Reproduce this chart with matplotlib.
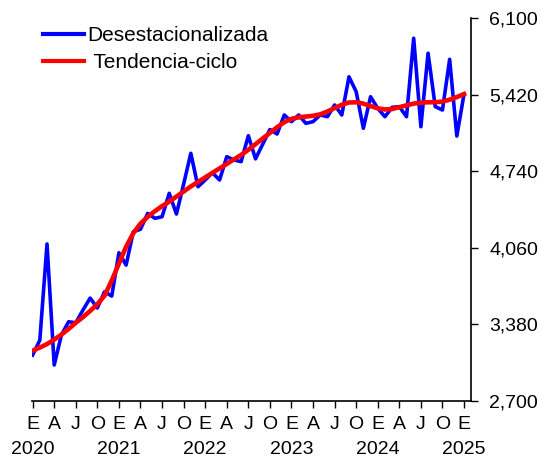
import numpy as np
import matplotlib
matplotlib.use("Agg")
import matplotlib.pyplot as plt
from matplotlib.ticker import FuncFormatter

plt.rcParams["font.family"] = ["Liberation Sans", "DejaVu Sans"]

# monthly series, Jan 2020 .. Jan 2025
desestacionalizada = [
    3108, 3241, 4094, 3020, 3286, 3404, 3395, 3508, 3614, 3526, 3670, 3632,
    4016, 3907, 4203, 4225, 4366, 4322, 4336, 4544, 4360, 4625, 4899, 4602,
    4662, 4727, 4662, 4869, 4840, 4825, 5055, 4850, 4980, 5110, 5070, 5239,
    5180, 5239, 5165, 5180, 5239, 5224, 5328, 5239, 5578, 5446, 5121, 5401,
    5298, 5224, 5307, 5313, 5224, 5920, 5135, 5787, 5313, 5283, 5733, 5052,
    5425,
]
tendencia_ciclo = [
    3147, 3175, 3206, 3245, 3290, 3340, 3395, 3445, 3500, 3560, 3635, 3770,
    3920, 4070, 4190, 4275, 4335, 4385, 4430, 4470, 4515, 4560, 4605, 4645,
    4685, 4725, 4765, 4805, 4845, 4885, 4930, 4980, 5030, 5080, 5130, 5175,
    5205, 5218, 5225, 5232, 5245, 5270, 5300, 5330, 5350, 5352, 5340, 5318,
    5298, 5288, 5292, 5308, 5325, 5340, 5348, 5352, 5352, 5358, 5375, 5398,
    5425,
]
quarter_letters = ["E", "A", "J", "O"]
years = [2020, 2021, 2022, 2023, 2024, 2025]
y_ticks = [2700, 3380, 4060, 4740, 5420, 6100]

months = np.arange(len(desestacionalizada))

fig = plt.figure(figsize=(5.41, 4.61), dpi=100)
ax = fig.add_axes([0.059, 0.130, 0.812, 0.831])

ax.plot(months, desestacionalizada, color="#0000ff", lw=2.6,
        label="Desestacionalizada")
ax.plot(months, tendencia_ciclo, color="#ff0000", lw=3.3,
        label=" Tendencia-ciclo")

ax.set_xlim(-0.1, 61)
ax.set_ylim(y_ticks[0], y_ticks[-1])

# quarterly ticks with E/A/J/O, year placed under each January
qpos = np.arange(0, 61, 3)
ax.set_xticks(qpos)
ax.set_xticklabels([quarter_letters[(q // 3) % 4] for q in qpos], fontsize=14)
trans = ax.get_xaxis_transform()
for i, yr in enumerate(years):
    ax.text(i * 12, -0.105, str(yr), transform=trans, ha="center", va="top",
            fontsize=14)

ax.yaxis.tick_right()
ax.set_yticks(y_ticks)
ax.yaxis.set_major_formatter(FuncFormatter(lambda v, p: f"{int(v):,}"))
ax.tick_params(axis="y", labelsize=14, length=5, width=1, pad=8)
ax.tick_params(axis="x", length=5, width=1, pad=6)

for s in ("top", "left"):
    ax.spines[s].set_visible(False)
for s in ("bottom", "right"):
    ax.spines[s].set_linewidth(1.2)

leg = ax.legend(loc="upper left", bbox_to_anchor=(-0.018, 1.028), frameon=False,
                fontsize=15, handlelength=2.0, handletextpad=0.15,
                labelspacing=0.4)
for h in leg.get_lines():
    h.set_linewidth(3.0)

fig.savefig("out.png", dpi=100)
